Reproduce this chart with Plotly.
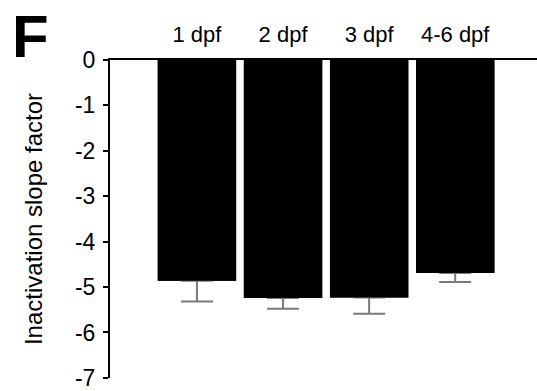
import plotly.graph_objects as go

categories = ["1 dpf", "2 dpf", "3 dpf", "4-6 dpf"]
slope_mean = [-4.86, -5.24, -5.23, -4.69]
slope_sem = [0.46, 0.24, 0.36, 0.20]
y_ticks = [0, -1, -2, -3, -4, -5, -6, -7]

FONT = "Liberation Sans, Arial, sans-serif"

fig = go.Figure()
# bars with downward error bars
fig.add_trace(go.Bar(
    x=categories, y=slope_mean, width=0.91,
    marker=dict(color="black", line=dict(width=0)),
    error_y=dict(type="data", symmetric=False, array=[0] * len(slope_sem),
                 arrayminus=slope_sem, color="#7a7a7a", thickness=2, width=16),
    showlegend=False, hoverinfo="skip",
))
# same bars drawn again on top to hide the upper half of the caps
fig.add_trace(go.Bar(
    x=categories, y=slope_mean, width=0.91,
    marker=dict(color="black", line=dict(width=0)),
    showlegend=False, hoverinfo="skip",
))

fig.update_layout(
    width=537, height=391,
    margin=dict(l=110, r=0, t=60, b=11),
    paper_bgcolor="white", plot_bgcolor="white",
    barmode="overlay",
    font=dict(family=FONT, color="black", size=20),
    xaxis=dict(
        side="top", range=[-1.01, 3.95], showline=True, linecolor="black",
        linewidth=1.5, ticks="", showgrid=False, zeroline=False,
        tickfont=dict(size=22), ticklabelstandoff=7,
    ),
    yaxis=dict(
        range=[-7.003, 0], tickmode="array", tickvals=y_ticks,
        ticktext=[str(v) for v in y_ticks],
        showline=True, linecolor="black", linewidth=2,
        ticks="outside", ticklen=5, tickwidth=2, tickcolor="black",
        showgrid=False, zeroline=False, tickfont=dict(size=23),
        ticklabelstandoff=3, ticklabeloverflow="allow",
        title=dict(text="Inactivation slope factor", font=dict(size=24), standoff=26),
    ),
    annotations=[dict(
        text="<b>F</b>", xref="paper", yref="paper", x=-0.235, y=1.184,
        xanchor="left", yanchor="top", showarrow=False,
        font=dict(size=60, family=FONT, color="black"),
    )],
)

fig.write_html("out.html")
